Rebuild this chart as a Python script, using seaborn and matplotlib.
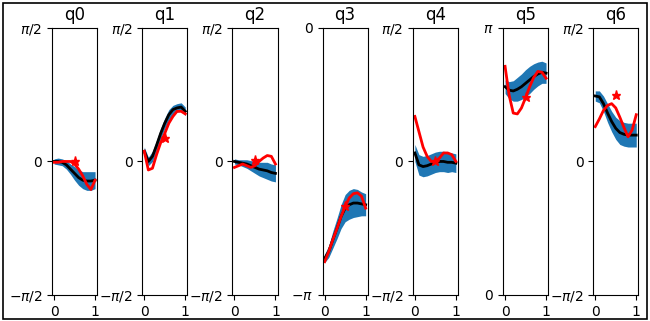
import numpy as np
import pandas as pd
import seaborn as sns
import matplotlib
matplotlib.use('Agg')
import matplotlib.pyplot as plt
from matplotlib.patches import Rectangle

# time axis (normalised)
t = [0.0, 0.1, 0.2, 0.3, 0.4, 0.5, 0.6, 0.7, 0.8, 0.9, 1.0]
joints = ['q0', 'q1', 'q2', 'q3', 'q4', 'q5', 'q6']

# mean trajectory (black)
mean_vals = [
    [0.0, 0.0, -0.01, -0.04, -0.09, -0.14, -0.19, -0.22, -0.23, -0.23, -0.22],
    [0.12, 0.0, 0.06, 0.19, 0.33, 0.45, 0.55, 0.61, 0.63, 0.64, 0.59],
    [0.0, -0.01, -0.02, -0.03, -0.05, -0.07, -0.09, -0.10, -0.11, -0.13, -0.14],
    [-2.71, -2.63, -2.49, -2.36, -2.22, -2.12, -2.08, -2.06, -2.06, -2.07, -2.08],
    [0.10, -0.04, -0.06, -0.05, -0.03, -0.01, 0.0, 0.0, -0.01, -0.01, -0.02],
    [2.45, 2.41, 2.40, 2.42, 2.45, 2.49, 2.53, 2.57, 2.60, 2.62, 2.61],
    [0.77, 0.76, 0.68, 0.57, 0.47, 0.39, 0.34, 0.32, 0.31, 0.31, 0.31],
]

# spread around the mean (blue band half width)
std_vals = [
    [0.03, 0.04, 0.04, 0.05, 0.06, 0.08, 0.09, 0.10, 0.11, 0.11, 0.10],
    [0.05, 0.05, 0.06, 0.06, 0.06, 0.06, 0.06, 0.05, 0.05, 0.05, 0.05],
    [0.03, 0.03, 0.04, 0.05, 0.06, 0.07, 0.08, 0.09, 0.10, 0.10, 0.10],
    [0.05, 0.07, 0.10, 0.12, 0.14, 0.16, 0.17, 0.17, 0.16, 0.14, 0.13],
    [0.10, 0.12, 0.12, 0.12, 0.12, 0.12, 0.12, 0.12, 0.12, 0.11, 0.11],
    [0.08, 0.10, 0.12, 0.14, 0.15, 0.16, 0.16, 0.15, 0.14, 0.13, 0.12],
    [0.06, 0.07, 0.09, 0.11, 0.12, 0.13, 0.14, 0.14, 0.14, 0.14, 0.14],
]

# single sample trajectory (red)
red_vals = [
    [-0.01, -0.01, 0.0, 0.0, 0.0, -0.03, -0.09, -0.17, -0.27, -0.33, -0.22],
    [0.12, -0.10, -0.08, 0.08, 0.22, 0.33, 0.45, 0.53, 0.59, 0.59, 0.56],
    [-0.07, -0.05, -0.03, -0.05, -0.07, -0.05, 0.0, 0.04, 0.07, 0.06, -0.03],
    [-2.75, -2.63, -2.49, -2.36, -2.22, -2.10, -2.00, -1.95, -1.94, -1.98, -2.12],
    [0.53, 0.35, 0.17, 0.06, 0.0, 0.0, 0.04, 0.10, 0.10, 0.08, 0.0],
    [2.69, 2.35, 2.14, 2.13, 2.20, 2.32, 2.45, 2.56, 2.63, 2.62, 2.55],
    [0.41, 0.50, 0.60, 0.66, 0.68, 0.63, 0.52, 0.40, 0.29, 0.37, 0.55],
]

# via point (red star)
star_x = [0.5, 0.5, 0.5, 0.5, 0.5, 0.5, 0.5]
star_y = [0.01, 0.28, 0.02, -2.09, 0.0, 2.33, 0.78]

# y range / ticks per joint
pi = np.pi
ylims = [(-pi/2, pi/2)] * 3 + [(-pi, 0)] + [(-pi/2, pi/2), (0, pi), (-pi/2, pi/2)]
yticks = [[-pi/2, 0, pi/2]] * 3 + [[-pi, 0]] + [[-pi/2, 0, pi/2], [0, pi], [-pi/2, 0, pi/2]]
yticklabels = [[r'$-\pi/2$', '0', r'$\pi/2$']] * 3 + [[r'$-\pi$', '0']] + \
    [[r'$-\pi/2$', '0', r'$\pi/2$'], ['0', r'$\pi$'], [r'$-\pi/2$', '0', r'$\pi/2$']]

fig, axes = plt.subplots(1, 7, figsize=(6.5, 3.21), dpi=100)
plt.subplots_adjust(left=0.08, right=0.982, top=0.913, bottom=0.081, wspace=1.0)

for i, ax in enumerate(axes):
    df = pd.DataFrame({'t': t, 'mean': mean_vals[i], 'std': std_vals[i], 'red': red_vals[i]})
    ax.fill_between(df['t'], df['mean'] - df['std'], df['mean'] + df['std'],
                    color='#1f77b4', linewidth=0)
    sns.lineplot(data=df, x='t', y='mean', color='black', linewidth=2, ax=ax)
    sns.lineplot(data=df, x='t', y='red', color='red', linewidth=2, ax=ax)
    ax.plot(star_x[i], star_y[i], marker='*', color='red', markersize=6.5, linestyle='none')
    ax.set_ylim(*ylims[i])
    ax.set_yticks(yticks[i])
    ax.set_yticklabels(yticklabels[i])
    ax.set_xticks([0, 1])
    ax.set_xticklabels(['0', '1'])
    ax.set_xlabel('')
    ax.set_ylabel('')
    ax.set_title(joints[i], fontsize=12)

# frame around the whole figure
fig.patches.append(Rectangle((3/650, 2/321), 644/650, 316/321, transform=fig.transFigure,
                             fill=False, edgecolor='black', linewidth=1.2))

plt.savefig('out.png', dpi=100)
